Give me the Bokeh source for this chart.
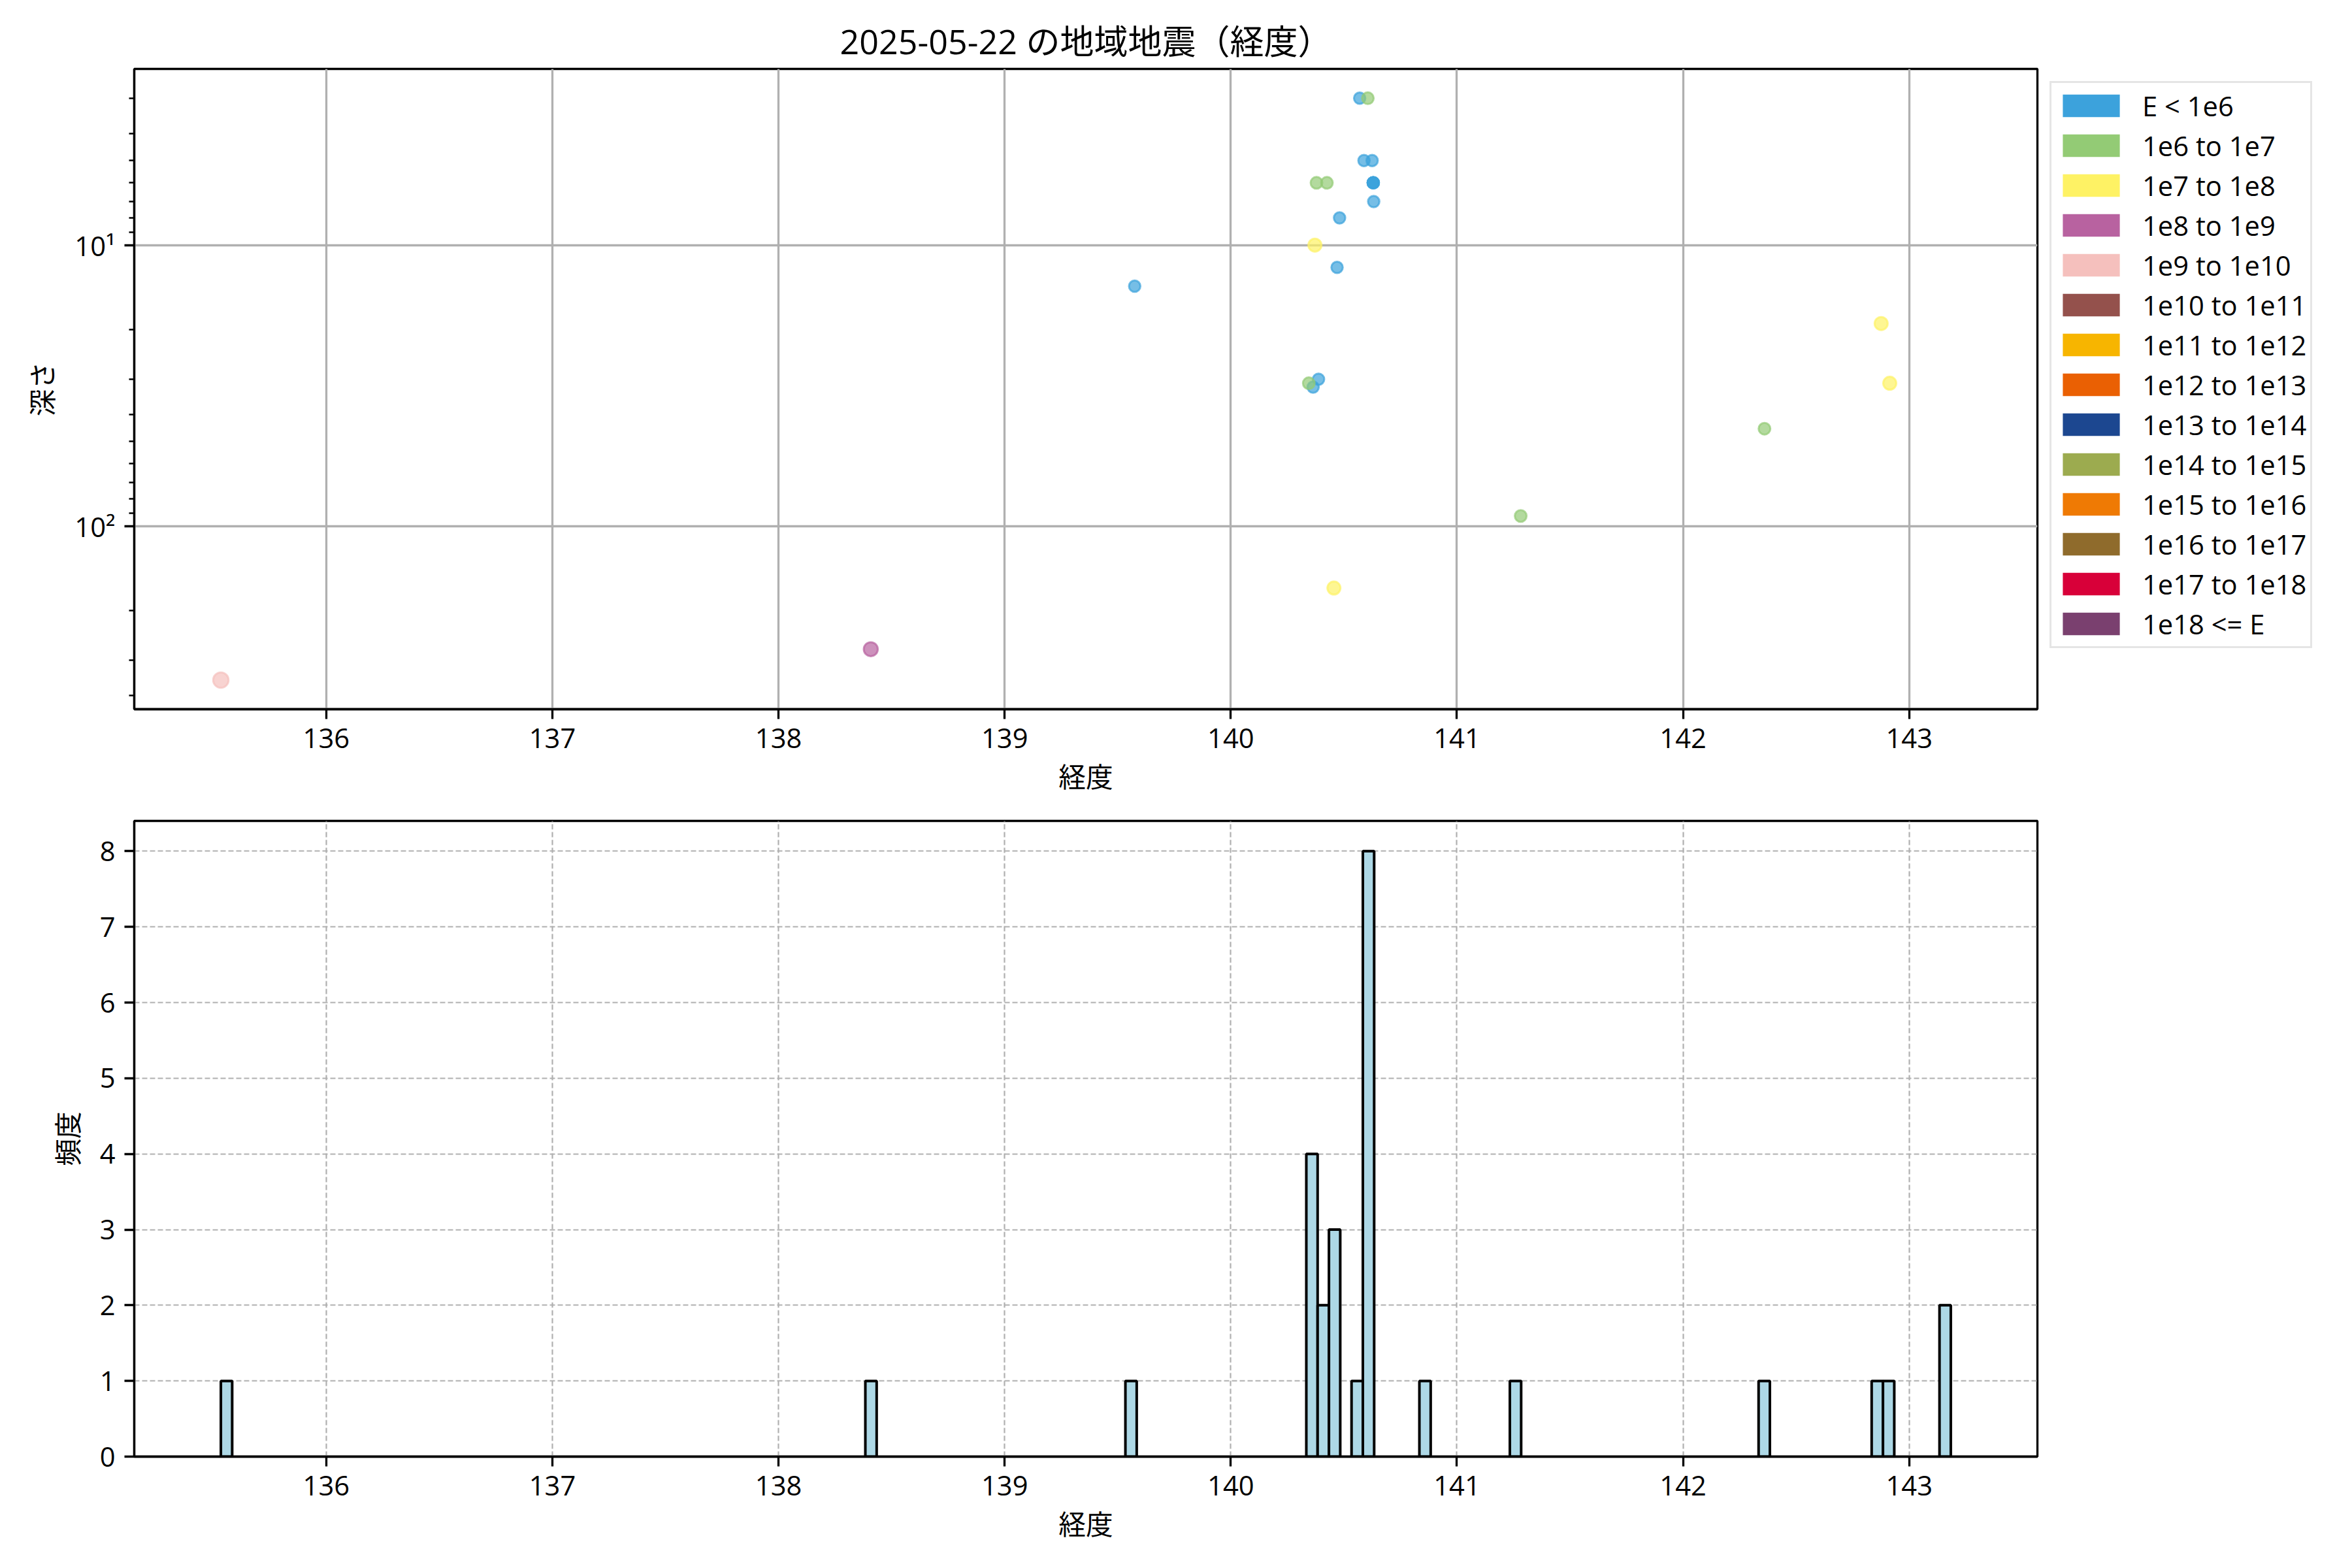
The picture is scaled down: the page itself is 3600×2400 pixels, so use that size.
import numpy as np
from bokeh.plotting import figure
from bokeh.models import Range1d, FixedTicker, Legend, LegendItem, ColumnDataSource
from bokeh.layouts import column
from bokeh.embed import file_html
from bokeh.resources import INLINE

FONT = "Open Sans, Noto Sans CJK JP"

# ---------------- data ----------------
title_text = "2025-05-22 の地域地震（経度）"
x_label = "経度"
depth_label = "深さ"
freq_label = "頻度"

energy_classes = ["E < 1e6", "1e6 to 1e7", "1e7 to 1e8", "1e8 to 1e9", "1e9 to 1e10",
                  "1e10 to 1e11", "1e11 to 1e12", "1e12 to 1e13", "1e13 to 1e14",
                  "1e14 to 1e15", "1e15 to 1e16", "1e16 to 1e17", "1e17 to 1e18", "1e18 <= E"]
class_colors = ["#3ca2dc", "#93cb75", "#fef264", "#b862a0", "#f5c0bd",
                "#94514c", "#f7b500", "#ea6003", "#1c4790", "#9cab4f",
                "#ef7a04", "#8f6b2c", "#d80039", "#7a406f"]

# earthquakes (longitude, depth km, energy class index)
quake_lon = [140.570, 140.589, 140.625, 140.630, 140.630, 140.630, 140.630, 140.632,
             140.481, 140.470, 140.388, 140.364, 139.575,
             140.606, 140.379, 140.425, 140.345, 142.360, 141.282,
             140.372, 142.876, 142.914, 140.456,
             138.408,
             135.534]
quake_depth = [3.0, 5.0, 5.0, 6.0, 6.0, 6.0, 6.0, 7.0,
               8.0, 12.0, 30.0, 32.0, 14.0,
               3.0, 6.0, 6.0, 31.0, 45.0, 92.0,
               10.0, 19.0, 31.0, 166.0,
               274.0,
               353.0]
quake_class = [0, 0, 0, 0, 0, 0, 0, 0,
               0, 0, 0, 0, 0,
               1, 1, 1, 1, 1, 1,
               2, 2, 2, 2,
               3,
               4]

# histogram of longitudes (bin start, count), bin width 0.05
hist_bin_start = [135.534, 138.384, 139.534, 140.334, 140.384, 140.434, 140.534,
                  140.584, 140.834, 141.234, 142.334, 142.834, 142.884, 143.134]
hist_counts = [1, 1, 1, 4, 2, 3, 1, 8, 1, 1, 1, 1, 1, 2]
hist_bin_width = 0.05

lon_ticks = [136, 137, 138, 139, 140, 141, 142, 143]
depth_major_ticks = [10, 100]
depth_minor_ticks = [3, 4, 5, 6, 7, 8, 9, 20, 30, 40, 50, 60, 70, 80, 90, 200, 300, 400]
depth_tick_labels = {10: "10¹", 100: "10²"}
count_ticks = [0, 1, 2, 3, 4, 5, 6, 7, 8]

# ---------------- styling helpers ----------------
FS = "41.7px"
marker_sizes = [17.5, 18, 20, 21.5, 23.5, 23.5, 23.5, 23.5, 23.5, 23.5, 23.5, 23.5, 23.5, 23.5]


def style_axes(p):
    for ax in (p.xaxis, p.yaxis):
        ax.axis_line_color = "black"
        ax.axis_line_width = 3.3
        ax.major_tick_out = 15
        ax.major_tick_in = 0
        ax.major_tick_line_width = 3.3
        ax.major_tick_line_color = "black"
        ax.minor_tick_out = 8
        ax.minor_tick_in = 0
        ax.minor_tick_line_width = 2.5
        ax.minor_tick_line_color = "black"
        ax.major_label_text_font = FONT
        ax.major_label_text_font_size = FS
        ax.major_label_text_color = "black"
        ax.major_label_standoff = 14
        ax.axis_label_text_font = FONT
        ax.axis_label_text_font_size = FS
        ax.axis_label_text_font_style = "normal"
        ax.axis_label_text_color = "black"
        ax.axis_label_standoff = 18
    p.xaxis.axis_label_standoff = 12
    p.outline_line_color = "black"
    p.outline_line_width = 3.3
    p.outline_line_alpha = 1.0


x_start, x_end = 135.151, 143.567

# ---------------- top: scatter ----------------
p1 = figure(frame_width=2913, frame_height=980,
            min_border_left=205, min_border_top=105, min_border_bottom=150, min_border_right=10,
            x_range=Range1d(x_start, x_end), y_range=Range1d(448.0, 2.36),
            y_axis_type="log", output_backend="svg", toolbar_location=None,
            title=title_text)
p1.title.text_font = FONT
p1.title.text_font_size = "52px"
p1.title.text_font_style = "normal"
p1.title.align = "center"
p1.title.text_color = "black"
p1.title.standoff = 16

style_axes(p1)
p1.xaxis.ticker = FixedTicker(ticks=lon_ticks)
p1.xaxis.minor_tick_line_color = None
p1.yaxis.ticker = FixedTicker(ticks=depth_major_ticks, minor_ticks=depth_minor_ticks)
p1.yaxis.major_label_overrides = depth_tick_labels
p1.xaxis.axis_label = x_label
p1.yaxis.axis_label = depth_label
p1.grid.grid_line_color = "#b0b0b0"
p1.grid.grid_line_width = 3.3

lon_arr = np.array(quake_lon)
dep_arr = np.array(quake_depth)
cls_arr = np.array(quake_class)
for ci in range(len(energy_classes)):
    mask = cls_arr == ci
    if mask.sum() == 0:
        continue
    src = ColumnDataSource(dict(x=lon_arr[mask], y=dep_arr[mask]))
    p1.scatter("x", "y", source=src, size=marker_sizes[ci],
               fill_color=class_colors[ci], line_color=class_colors[ci],
               fill_alpha=0.7, line_alpha=0.7, line_width=3)

items = []
for ci, lab in enumerate(energy_classes):
    # legend-only swatch (nothing visible in the plot area)
    r = p1.quad(left=[np.nan], right=[np.nan], top=[np.nan], bottom=[np.nan],
                fill_color=class_colors[ci], line_color=None)
    items.append(LegendItem(label=lab, renderers=[r], index=0))

legend = Legend(items=items, location="top_left")
legend.label_text_font = FONT
legend.label_text_font_size = FS
legend.label_text_color = "black"
legend.glyph_width = 109
legend.glyph_height = 43
legend.label_height = 34
legend.label_standoff = 24
legend.spacing = 4
legend.padding = 6
legend.margin = 19
legend.border_line_color = "#cccccc"
legend.border_line_width = 3.5
legend.background_fill_alpha = 0.8
p1.add_layout(legend, "right")

# ---------------- bottom: histogram ----------------
p2 = figure(frame_width=2913, frame_height=973,
            min_border_left=205, min_border_top=21, min_border_bottom=150, min_border_right=10,
            x_range=Range1d(x_start, x_end), y_range=Range1d(0, 8.4),
            output_backend="svg", toolbar_location=None)
style_axes(p2)
p2.xaxis.ticker = FixedTicker(ticks=lon_ticks)
p2.yaxis.ticker = FixedTicker(ticks=count_ticks)
p2.xaxis.minor_tick_line_color = None
p2.yaxis.minor_tick_line_color = None
p2.xaxis.axis_label = x_label
p2.yaxis.axis_label = freq_label
p2.grid.grid_line_color = "#b0b0b0"
p2.grid.grid_line_width = 2.2
p2.grid.grid_line_dash = "8 4"

hs = np.array(hist_bin_start)
hist_src = ColumnDataSource(dict(left=hs, right=hs + hist_bin_width,
                                 top=np.array(hist_counts, dtype=float),
                                 bottom=np.zeros(len(hs))))
p2.quad(left="left", right="right", top="top", bottom="bottom", source=hist_src,
        fill_color="#add8e6", line_color="black", line_width=4)

layout = column(p1, p2)
open("out.html", "w").write(file_html(layout, INLINE))
